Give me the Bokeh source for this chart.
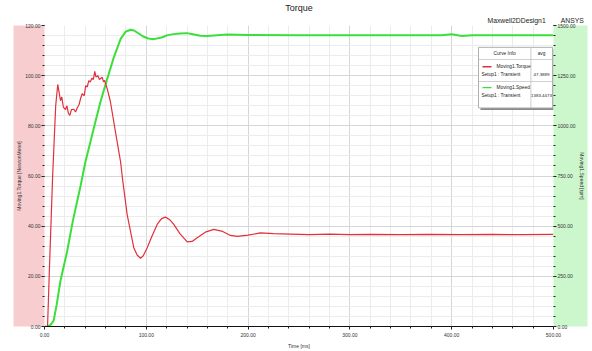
from bokeh.plotting import figure
from bokeh.layouts import row
from bokeh.models import (Range1d, LinearAxis, SingleIntervalTicker, PrintfTickFormatter, Title,
                          Spacer)
from bokeh.core.properties import value
from bokeh.embed import file_html
from bokeh.resources import INLINE

# ---- data ----
time_torque = [0, 3, 5, 8, 11, 13, 14.5, 15.7, 17, 18.5, 20.6, 22, 23.5, 24.9, 26.5, 28.8,
               30.5, 32, 34, 35.5, 37, 39, 40.5, 42, 43.5, 45, 46.5, 48, 49.4, 50.5, 52.4,
               54, 56.6, 58, 59, 61.6, 64.8, 69.7, 74.7, 76.9, 81.2, 87.7, 91, 94.3, 97,
               100.9, 105, 110.7, 115, 118.9, 123, 127, 133, 140.2, 145, 150, 158, 166.3,
               175, 182.7, 189.3, 200, 212, 225, 241.6, 260, 280, 300, 320, 350, 380, 410,
               440, 470, 500]
torque = [0, 0, 25, 60, 88, 96.5, 93, 90, 91.5, 87.5, 86.5, 88, 85, 84.2, 86.5, 86.6,
          85.5, 87, 88.5, 91, 92.8, 92, 96, 95.5, 98, 97.5, 99, 98.5, 101.7, 99.5, 100,
          98.5, 99.4, 97.5, 98.1, 94.8, 89.5, 77.6, 65.7, 58, 44.6, 31.4, 28.5, 27.2, 28.2,
          31.4, 35.5, 40.7, 43, 43.6, 42.6, 40.7, 37, 33.7, 33.9, 35.4, 37.6, 38.7,
          37.9, 36.3, 35.9, 36.4, 37.3, 37.0, 36.8, 36.6, 36.8, 36.6, 36.7, 36.6, 36.7, 36.6,
          36.7, 36.6, 36.7]

time_speed = [0, 3, 6, 9, 12, 15.7, 22.3, 28, 35.4, 40.3, 50, 55, 61.6, 68, 74.7, 79.6,
              84.5, 88, 91, 97, 102, 107.4, 115, 121, 127, 133, 140, 147, 153, 160, 169.6,
              180, 200, 250, 300, 350, 390, 400, 410, 420, 450, 500]
speed = [0, 0, 8, 30, 110, 228, 376, 530, 700, 822, 1020, 1120, 1234, 1340, 1432, 1469,
         1479, 1475, 1465, 1445, 1435, 1432, 1440, 1452, 1457, 1460, 1462, 1455, 1449, 1448,
         1452, 1455, 1453, 1452, 1452, 1452, 1452, 1456, 1448, 1452, 1452, 1452]

x_ticks_interval = 100
torque_tick_interval = 20
speed_tick_interval = 250

title_text = "Torque"
design_text = "Maxwell2DDesign1\u00a0\u00a0\u00a0\u00a0\u00a0\u00a0\u00a0\u00a0ANSYS"
x_label = "Time [ms]"
y_label = "Moving1.Torque [NewtonMeter]"
y2_label = "Moving1.Speed [rpm]"
legend_header = ["Curve Info", "avg"]
legend_names = ["Moving1.Torque", "Moving1.Speed"]
legend_setup = ["Setup1 : Transient", "Setup1 : Transient"]
legend_avg = ["47.3889", "1383.4473"]

FONT = "Liberation Sans"
RED = "#e0303c"
GREEN = "#3ae03a"

PAD_LEFT = 13                 # white strip left of the pink axis band
FL, FB, FW, FH = 44, 326, 509, 303   # frame left, bottom, width, height in page pixels
BAND_L = FL - PAD_LEFT        # width of the pink band
BAND_R = 35                   # width of the green band

p = figure(width=BAND_L + FW + BAND_R, height=351, x_range=Range1d(0, 500),
           y_range=Range1d(0, 120), output_backend="svg", toolbar_location=None, title=None,
           min_border_left=BAND_L, min_border_right=BAND_R, min_border_top=23,
           min_border_bottom=351 - FB)
p.extra_y_ranges = {"speed": Range1d(0, 1500)}
p.outline_line_color = None
p.background_fill_color = "white"
p.border_fill_color = "white"

p.add_layout(Title(text=design_text, align="left", offset=443, text_font=FONT,
                   text_font_size="6.8px", text_font_style="normal", text_color="#222222",
                   standoff=4), "above")
p.add_layout(Title(text=title_text, align="center", text_font=FONT,
                   text_font_size="9px", text_font_style="normal", text_color="#222222",
                   standoff=0), "above")

# axes
xa = p.xaxis[0]
xa.ticker = SingleIntervalTicker(interval=x_ticks_interval, num_minor_ticks=5)
xa.formatter = PrintfTickFormatter(format="%.2f")
xa.axis_label = x_label
ya = p.yaxis[0]
ya.ticker = SingleIntervalTicker(interval=torque_tick_interval, num_minor_ticks=5)
ya.formatter = PrintfTickFormatter(format="%.2f")
ya.axis_label = y_label
ra = LinearAxis(y_range_name="speed", axis_label=y2_label,
                ticker=SingleIntervalTicker(interval=speed_tick_interval, num_minor_ticks=5),
                formatter=PrintfTickFormatter(format="%.2f"))
p.add_layout(ra, "right")

for ax in (xa, ya, ra):
    ax.major_label_text_font = FONT
    ax.major_label_text_font_size = "5px"
    ax.major_label_text_color = "#333333"
    ax.axis_label_text_font = FONT
    ax.axis_label_text_font_size = "5px"
    ax.axis_label_text_font_style = "normal"
    ax.axis_label_text_color = "#333333"
    ax.major_tick_line_color = "#222222"
    ax.minor_tick_line_color = "#222222"
    ax.major_tick_out = 3
    ax.major_tick_in = 0
    ax.minor_tick_out = 2
    ax.minor_tick_in = 0
    ax.major_label_standoff = 1
    ax.axis_label_standoff = 0

xa.axis_line_color = "#111111"
xa.axis_line_width = 1.2
xa.major_label_standoff = 3
xa.axis_label_standoff = 3
ya.axis_line_color = None
ra.axis_line_color = None
ya.background_fill_color = "#f8cdd0"
ra.background_fill_color = "#ccf7cc"

# grids
p.xgrid.ticker = xa.ticker
p.ygrid.ticker = ya.ticker
p.xgrid.grid_line_color = "#d6d6d6"
p.ygrid.grid_line_color = "#d6d6d6"
p.xgrid.minor_grid_line_color = "#ececec"
p.ygrid.minor_grid_line_color = "#ececec"

# curves
p.line(time_speed, speed, y_range_name="speed", line_color=GREEN, line_width=2)
p.line(time_torque, torque, line_color=RED, line_width=1.2)

# ---- legend box drawn as glyphs (page pixel position -> data units of the frame) ----
def dx(cx):
    return (cx - FL) / FW * 500.0

def dy(cy):
    return (FB - cy) / FH * 120.0

def pbox(x0, y0, x1, y1, fill, line=None):
    p.quad(left=dx(x0), right=dx(x1), top=dy(y0), bottom=dy(y1), fill_color=fill,
           line_color=line, line_width=1)

def pline(x0, x1, cy, color):
    p.line(x=[dx(x0), dx(x1)], y=[dy(cy), dy(cy)], line_color=color, line_width=1.3)

def ptext(text, cx, cy, align="center", size="4.8px"):
    p.text(x=[dx(cx)], y=[dy(cy)], text=[text], text_font=value(FONT), text_font_size=size,
           text_align=align, text_baseline="middle", text_color="#222222")

pbox(480, 47, 554, 108, "#8a8a8a")
pbox(478, 45, 552, 106, "white", "#b0b0b0")
pbox(530, 45, 530.8, 106, "#c0c0c0")
pbox(478, 57, 552, 57.8, "#c0c0c0")
pbox(478, 79, 552, 79.8, "#c0c0c0")
pline(482, 491, 64.5, RED)
pline(482, 491, 85.5, GREEN)

ptext(legend_header[0], 504, 51)
ptext(legend_header[1], 541, 51)
ptext(legend_names[0], 496, 64, align="left")
ptext(legend_setup[0], 481, 72, align="left")
ptext(legend_avg[0], 541, 72, size="4.4px")
ptext(legend_names[1], 496, 85, align="left")
ptext(legend_setup[1], 481, 93, align="left")
ptext(legend_avg[1], 541, 93, size="4.4px")

layout = row(Spacer(width=PAD_LEFT, height=351), p)
open("out.html", "w").write(file_html(layout, INLINE))
